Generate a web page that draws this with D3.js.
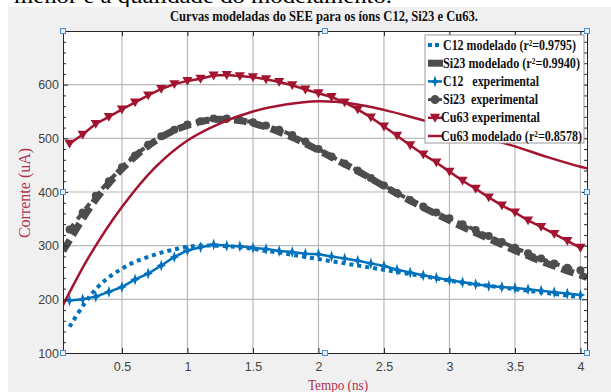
<!DOCTYPE html>
<html><head><meta charset="utf-8">
<script src="https://cdn.jsdelivr.net/npm/d3@7"></script>
<style>body{margin:0;background:#fff;} svg{display:block;}</style>
</head><body><svg id="c" width="611" height="392"></svg>
<script>
// ---------- data ----------
const timeExp = [0.1,0.2,0.3,0.4,0.5,0.6,0.7,0.8,0.9,1.0,1.1,1.2,1.3,1.4,1.5,1.6,1.7,1.8,1.9,2.0,
                 2.1,2.2,2.3,2.4,2.5,2.6,2.7,2.8,2.9,3.0,3.1,3.2,3.3,3.4,3.5,3.6,3.7,3.8,3.9,4.0];
const c12Exp  = [198,200,205,214,223,237,248,263,279,291,297,302,300,299,296,294,290,288,285,284,
                 280,276,272,267,262,255,250,245,240,236,232,228,225,223,221,219,216,213,211,208];
const si23Exp = [330,362,393,420,446,468,488,504,516,526,532,537,537,534,530,524,516,506,494,480,
                 466,453,440,426,412,398,385,373,362,351,340,329,318,307,296,286,276,267,259,254];
const cu63Exp = [490,507,527,540,554,567,580,592,601,607,611,617,618,616,614,610,605,599,591,584,
                 577,567,554,539,522,505,487,470,455,438,421,406,390,375,362,347,335,322,309,296];
const c12Model = [149,187,219,241,257,270,279,287,293,298,300,300,299,297,294,290,287,283,279,275,
                  271,267,263,259,255,251,247,243,239,235,231,228,225,222,219,216,213,210,207,204];
const si23ModelTime = [0.05,0.1,0.2,0.3,0.4,0.5,0.6,0.7,0.8,0.9,1.0,1.1,1.2,1.3,1.4,1.5,1.6,1.7,1.8,1.9,2.0,
                 2.1,2.2,2.3,2.4,2.5,2.6,2.7,2.8,2.9,3.0,3.1,3.2,3.3,3.4,3.5,3.6,3.7,3.8,3.9,4.0,4.05];
const si23Model = [290,310,350,386,416,443,466,486,502,515,524,531,535,535,533,528,521,512,502,490,478,
                   465,452,439,425,411,397,384,371,359,347,335,324,313,302,291,281,271,262,253,245,241];
const cu63ModelTime = [0.05,0.25,0.5,0.75,1.0,1.25,1.5,1.75,2.0,2.25,2.5,2.75,3.0,3.25,3.5,3.75,4.0,4.05];
const cu63Model = [189,280,372,445,496,528,550,563,569,565,553,537,520,503,485,465,447,444];

const xTicks = [0.5,1,1.5,2,2.5,3,3.5,4];
const yTicks = [100,200,300,400,500,600];
const yMinor = [120,140,160,180,220,240,260,280,320,340,360,380,420,440,460,480,520,540,560,580,620,640,660,680];

const legendLabels = ["C12 modelado (r\u00B2=0.9795)","Si23 modelado (r\u00B2=0.9940)","C12   experimental",
                      "Si23  experimental","Cu63 experimental","Cu63 modelado (r\u00B2=0.8578)"];
const legendWidths = [133,137,96,95,99,141];

// ---------- setup ----------
const BLUE="#0072BD", GRAY="#4d4d4d", RED="#A2142F", LRED="#b03050";
const W=611,H=392;
const m = {left:63,right:587,top:31,bottom:353};
const svg = d3.select("#c");
const x = d3.scaleLinear().domain([0.05,4.05]).range([m.left,m.right]);
const y = d3.scaleLinear().domain([100,700]).range([m.bottom,m.top]);

svg.append("text").attr("x",14).attr("y",3).attr("font-family","Liberation Serif").attr("font-size",21)
  .attr("textLength",378).attr("lengthAdjust","spacingAndGlyphs").attr("fill","#000")
  .text("menor e a qualidade do modelamento.");
svg.append("rect").attr("x",8).attr("y",7).attr("width",W-8).attr("height",H-7).attr("fill","#f0f0f0");

svg.append("text").attr("x",324).attr("y",21).attr("text-anchor","middle")
  .attr("font-family","Liberation Serif").attr("font-weight","bold").attr("font-size",14)
  .attr("textLength",308).attr("lengthAdjust","spacingAndGlyphs").attr("fill","#111")
  .text("Curvas modeladas do SEE para os \u00EDons C12, Si23 e Cu63.");

svg.append("rect").attr("x",m.left).attr("y",m.top).attr("width",m.right-m.left).attr("height",m.bottom-m.top).attr("fill","#fff");

// grid
const g = svg.append("g");
g.selectAll("line.gx").data(xTicks).join("line").attr("x1",d=>x(d)).attr("x2",d=>x(d))
  .attr("y1",m.top).attr("y2",m.bottom).attr("stroke","#b8b8b8").attr("stroke-width",1.2);
g.selectAll("line.gy").data(yTicks.filter(d=>d>100)).join("line").attr("y1",d=>y(d)).attr("y2",d=>y(d))
  .attr("x1",m.left).attr("x2",m.right).attr("stroke","#b8b8b8").attr("stroke-width",1.2);

// clip
svg.append("clipPath").attr("id","clip").append("rect").attr("x",m.left).attr("y",m.top)
  .attr("width",m.right-m.left).attr("height",m.bottom-m.top);
const plot = svg.append("g").attr("clip-path","url(#clip)");

const lineExp = (vals)=> d3.line().x((d,i)=>x(timeExp[i])).y(d=>y(d))(vals);
const smooth = (ts, vals)=> d3.line().curve(d3.curveCatmullRom).x((d,i)=>x(ts[i])).y(d=>y(d))(vals);

function star4(cx,cy){ const a=6,b=4.8,c=1.5;
  return `M${cx},${cy-a}L${cx+c},${cy-c}L${cx+b},${cy}L${cx+c},${cy+c}L${cx},${cy+a}L${cx-c},${cy+c}L${cx-b},${cy}L${cx-c},${cy-c}Z`; }
const tri = d3.symbol(d3.symbolTriangle, 45);

// C12 modelado (dotted)
plot.append("path").attr("d",smooth(timeExp,c12Model)).attr("fill","none").attr("stroke",BLUE)
  .attr("stroke-width",4).attr("stroke-dasharray","4,4");
// Si23 modelado (thick dashed)
plot.append("path").attr("d",smooth(si23ModelTime,si23Model)).attr("fill","none").attr("stroke",GRAY)
  .attr("stroke-width",7).attr("stroke-dasharray","13,6");
// C12 experimental
plot.append("path").attr("d",lineExp(c12Exp)).attr("fill","none").attr("stroke",BLUE).attr("stroke-width",2.5);
plot.selectAll("path.c12m").data(c12Exp).join("path").attr("d",(d,i)=>star4(x(timeExp[i]),y(d))).attr("fill",BLUE);
// Si23 experimental
plot.append("path").attr("d",lineExp(si23Exp)).attr("fill","none").attr("stroke",GRAY)
  .attr("stroke-width",4).attr("stroke-dasharray","7,6");
plot.selectAll("circle.si").data(si23Exp).join("circle").attr("cx",(d,i)=>x(timeExp[i])).attr("cy",d=>y(d))
  .attr("r",4).attr("fill",GRAY);
// Cu63 experimental
plot.append("path").attr("d",lineExp(cu63Exp)).attr("fill","none").attr("stroke",RED).attr("stroke-width",2.5);
plot.selectAll("path.cu").data(cu63Exp).join("path").attr("d",tri)
  .attr("transform",(d,i)=>`translate(${x(timeExp[i])},${y(d)-1}) rotate(180)`).attr("fill",RED);
// Cu63 modelado
plot.append("path").attr("d",smooth(cu63ModelTime,cu63Model)).attr("fill","none").attr("stroke",RED).attr("stroke-width",2.5);

// axes
const axCol="#262626";
function styleAxis(sel, showText){
  sel.select(".domain").attr("stroke",axCol);
  sel.selectAll(".tick line").attr("stroke",axCol);
  sel.selectAll(".tick text").attr("fill","#444").attr("font-family","Liberation Sans, Arial").attr("font-size",12.5);
  if(!showText) sel.selectAll(".tick text").remove();
}
const axL = svg.append("g").attr("transform",`translate(${m.left},0)`)
  .call(d3.axisLeft(y).tickValues(yTicks).tickSizeInner(-5).tickSizeOuter(0).tickPadding(4));
styleAxis(axL,true);
const axLm = svg.append("g").attr("transform",`translate(${m.left},0)`)
  .call(d3.axisLeft(y).tickValues(yMinor).tickSizeInner(-3).tickSizeOuter(0).tickFormat(""));
styleAxis(axLm,false);
const axR = svg.append("g").attr("transform",`translate(${m.right},0)`)
  .call(d3.axisRight(y).tickValues(yTicks).tickSizeInner(-5).tickSizeOuter(0).tickFormat(""));
styleAxis(axR,false);
const axRm = svg.append("g").attr("transform",`translate(${m.right},0)`)
  .call(d3.axisRight(y).tickValues(yMinor).tickSizeInner(-3).tickSizeOuter(0).tickFormat(""));
styleAxis(axRm,false);
const axB = svg.append("g").attr("transform",`translate(0,${m.bottom})`)
  .call(d3.axisBottom(x).tickValues(xTicks).tickSizeInner(-5).tickSizeOuter(0).tickPadding(9).tickFormat(d3.format("")));
styleAxis(axB,true);
const axT = svg.append("g").attr("transform",`translate(0,${m.top})`)
  .call(d3.axisTop(x).tickValues(xTicks).tickSizeInner(-5).tickSizeOuter(0).tickFormat(""));
styleAxis(axT,false);

// axis labels
svg.append("text").attr("transform",`translate(30,193) rotate(-90)`).attr("text-anchor","middle")
  .attr("font-family","Liberation Serif").attr("font-size",16).attr("fill",LRED).text("Corrente (uA)");
svg.append("text").attr("x",338).attr("y",390).attr("text-anchor","middle")
  .attr("font-family","Liberation Serif").attr("font-size",14.5).attr("fill",LRED)
  .attr("textLength",60).attr("lengthAdjust","spacingAndGlyphs").text("Tempo (ns)");

// legend
const L = {x:425,y:35,w:159,h:108};
const lg = svg.append("g");
lg.append("rect").attr("x",L.x).attr("y",L.y).attr("width",L.w).attr("height",L.h)
  .attr("fill","#fff").attr("stroke","#9a9a9a").attr("stroke-width",1);
const rowY = i => 45 + i*18.2;
const sx1 = 428, sx2 = 442, sxm = 435;
lg.append("line").attr("x1",sx1).attr("x2",sx2).attr("y1",rowY(0)).attr("y2",rowY(0))
  .attr("stroke",BLUE).attr("stroke-width",4).attr("stroke-dasharray","4,3");
lg.append("line").attr("x1",sx1).attr("x2",sx2+1).attr("y1",rowY(1)).attr("y2",rowY(1))
  .attr("stroke",GRAY).attr("stroke-width",7);
lg.append("line").attr("x1",sx1).attr("x2",sx2).attr("y1",rowY(2)).attr("y2",rowY(2)).attr("stroke",BLUE).attr("stroke-width",2.5);
lg.append("path").attr("d",star4(sxm,rowY(2))).attr("fill",BLUE);
lg.append("line").attr("x1",sx1).attr("x2",sx2).attr("y1",rowY(3)).attr("y2",rowY(3)).attr("stroke",GRAY).attr("stroke-width",3);
lg.append("circle").attr("cx",sxm).attr("cy",rowY(3)).attr("r",4.5).attr("fill",GRAY);
lg.append("line").attr("x1",sx1).attr("x2",sx2).attr("y1",rowY(4)).attr("y2",rowY(4)).attr("stroke",RED).attr("stroke-width",2.5);
lg.append("path").attr("d",tri).attr("transform",`translate(${sxm},${rowY(4)-1}) rotate(180)`).attr("fill",RED);
lg.append("line").attr("x1",sx1).attr("x2",sx2).attr("y1",rowY(5)).attr("y2",rowY(5)).attr("stroke",RED).attr("stroke-width",2.5);

lg.selectAll("text.lt").data(legendLabels).join("text")
  .attr("x",(d,i)=> i>=4 ? 441 : 443).attr("y",(d,i)=>rowY(i)+4.5)
  .attr("font-family","Liberation Serif").attr("font-weight","bold").attr("font-size",14.5)
  .attr("fill","#111").attr("textLength",(d,i)=>legendWidths[i]).attr("lengthAdjust","spacingAndGlyphs")
  .style("white-space","pre").attr("xml:space","preserve").text(d=>d);

// selection handles
const hx=[m.left,(m.left+m.right)/2,m.right], hy=[m.top,(m.top+m.bottom)/2,m.bottom];
const handles=[];
hx.forEach((a,i)=>hy.forEach((b,j)=>{ if(!(i===1&&j===1)) handles.push([a,b]); }));
svg.selectAll("rect.h").data(handles).join("rect").attr("x",d=>d[0]-2.5).attr("y",d=>d[1]-2.5)
  .attr("width",5).attr("height",5).attr("fill","#e8f1fb").attr("stroke","#4a90d9").attr("stroke-width",1);
</script></body></html>
